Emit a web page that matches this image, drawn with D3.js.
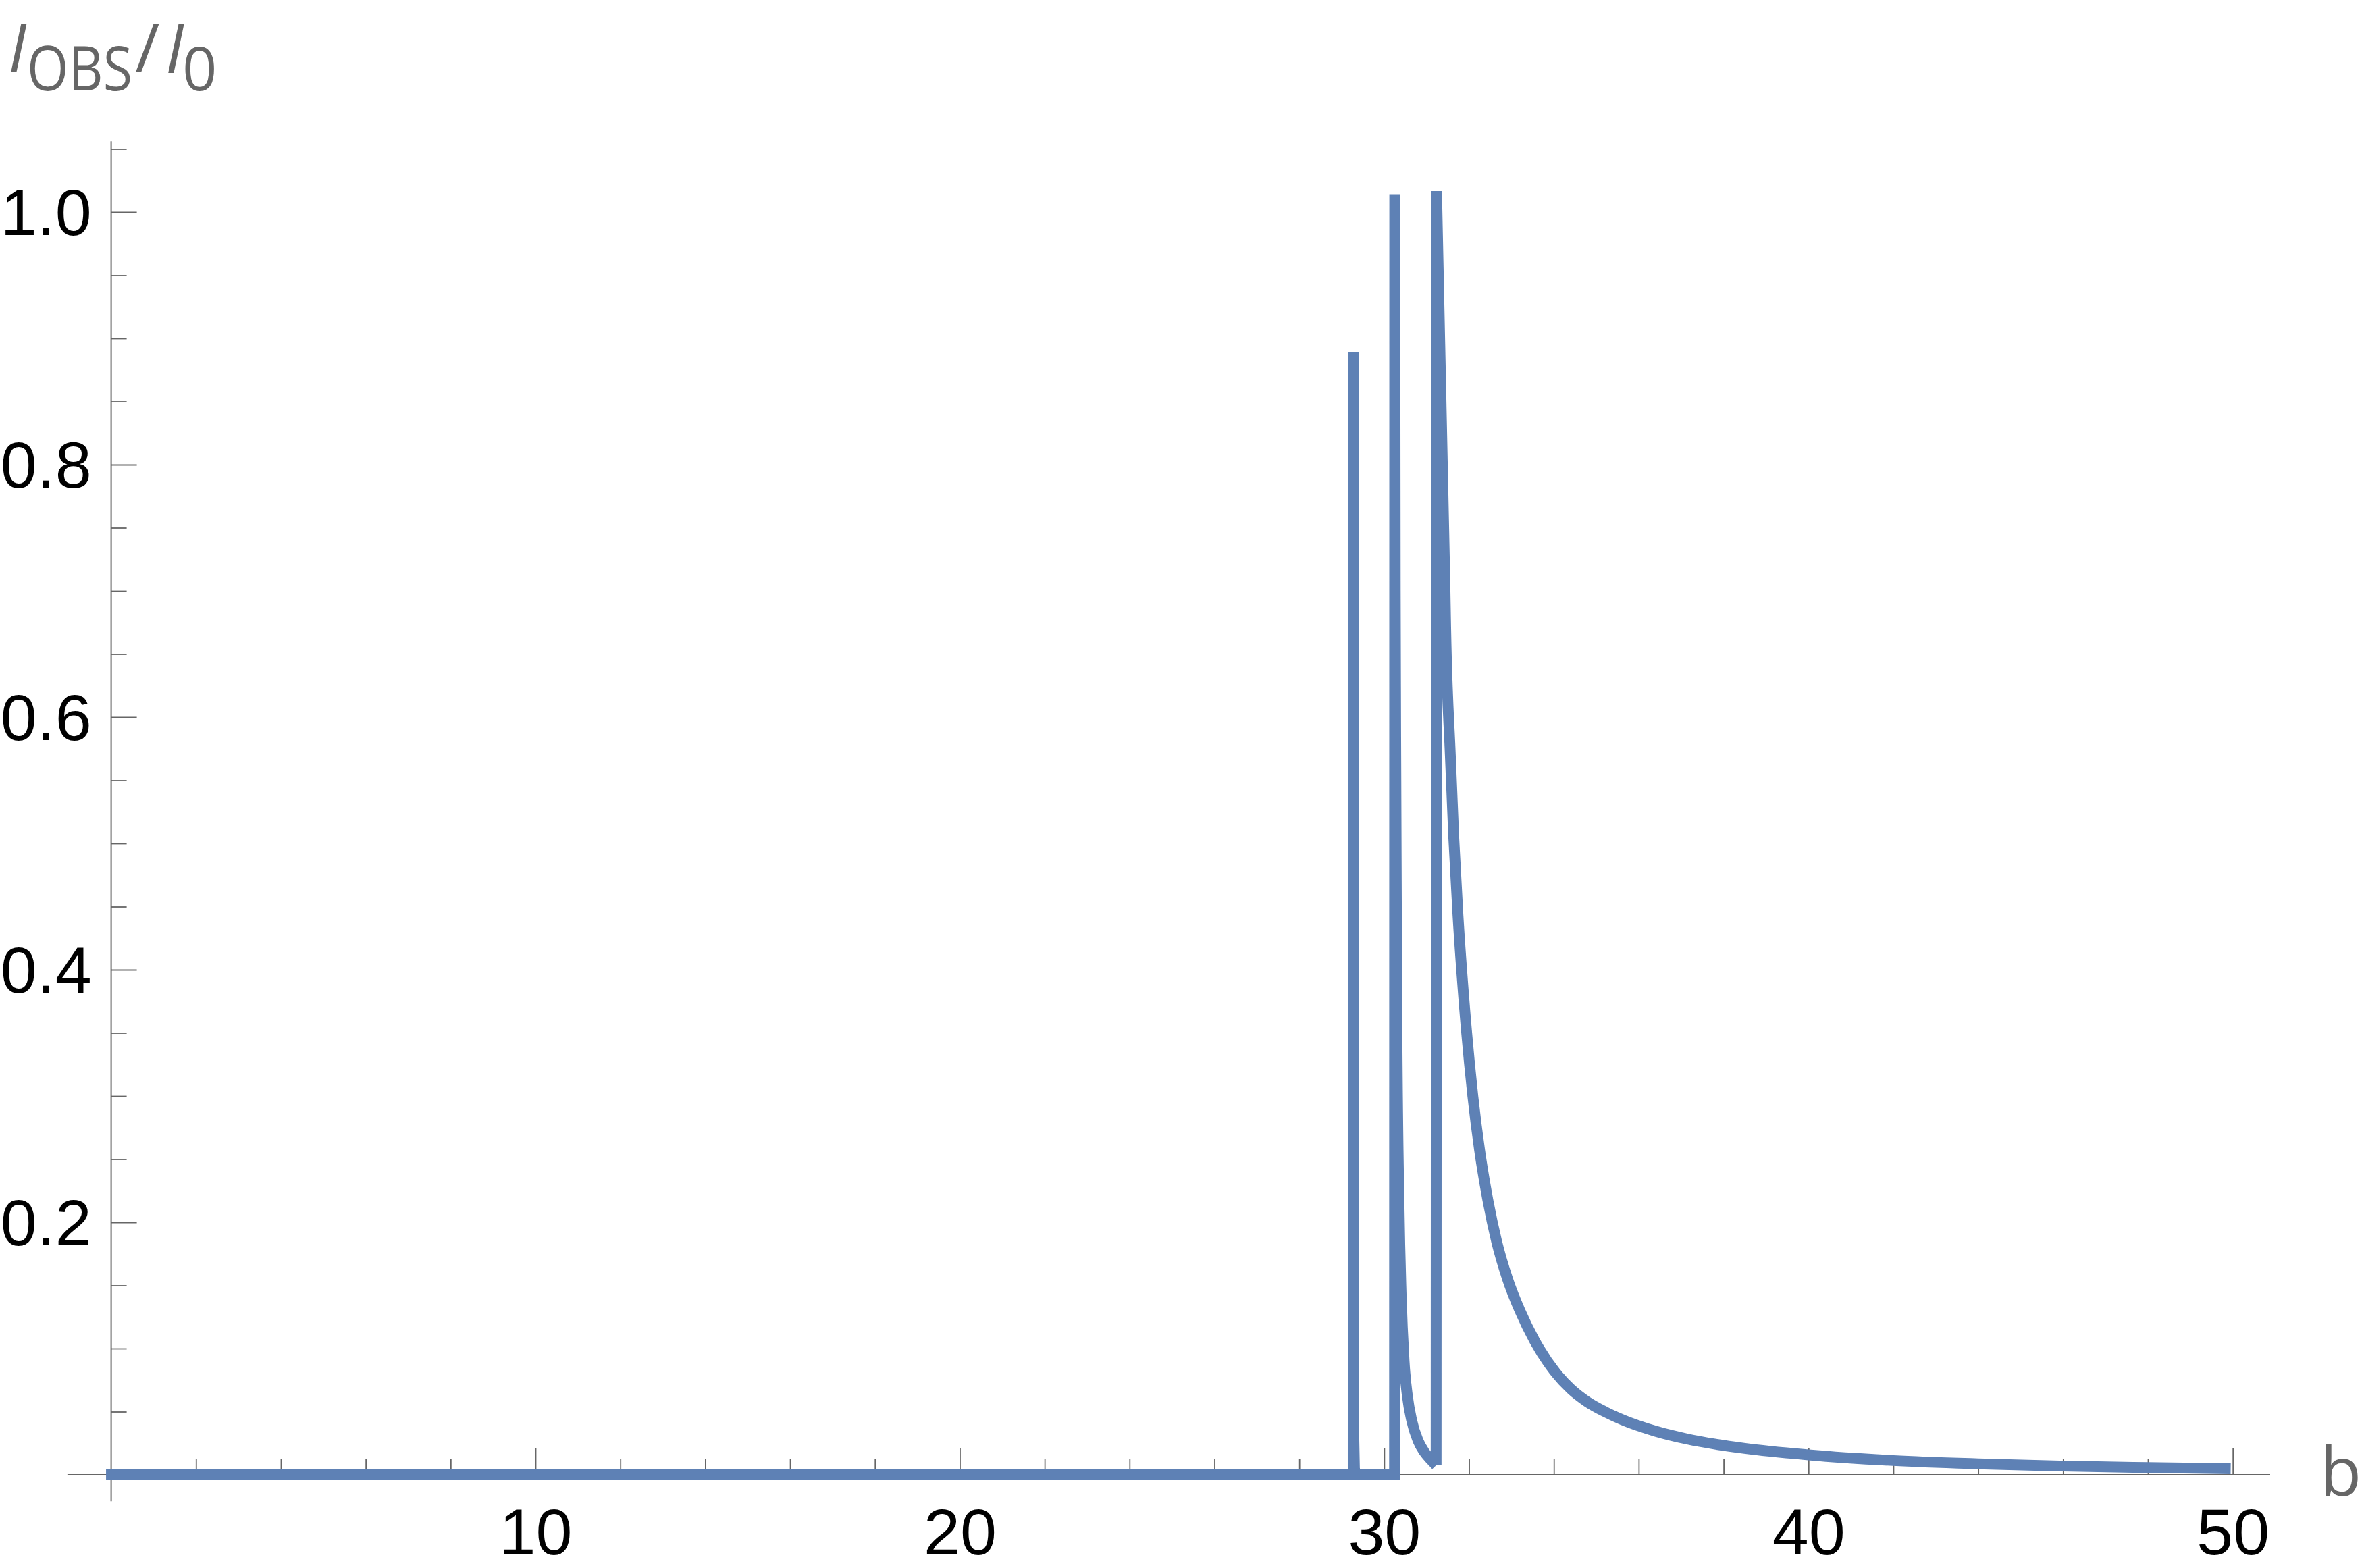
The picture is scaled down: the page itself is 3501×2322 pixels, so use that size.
<!DOCTYPE html>
<html>
<head>
<meta charset="utf-8">
<script src="https://cdn.jsdelivr.net/npm/d3@7"></script>
<style>
  html, body { margin: 0; padding: 0; background: #ffffff; }
  svg { display: block; }
</style>
</head>
<body>
<svg id="chart" width="3501" height="2322"></svg>
<script>
// ---------- data ----------
// baseline + first spike + rise of second spike (straight segments)
const riseB1 = [-0.12, 29.27, 29.275, 29.285, 29.30, 29.33, 30.245, 30.25];
const riseI1 = [0, 0, 0.889, 0.03, 0.005, 0, 0, 1.0136];
// decay after the second spike
const decayB2 = [30.25, 30.262, 30.277, 30.30, 30.35, 30.40, 30.47, 30.55, 30.65, 30.80, 30.95, 31.10, 31.225];
const decayI2 = [1.0136, 0.70, 0.549, 0.36, 0.215, 0.143, 0.09, 0.062, 0.043, 0.027, 0.018, 0.012, 0.0075];
// rise of the third spike
const riseB3 = [31.225, 31.235];
const riseI3 = [0.0075, 1.0166];
// decay after the third spike (long tail)
const decayB3 = [31.235, 31.43, 31.45, 31.56, 31.64, 31.74, 31.90, 32.09, 32.25, 32.42, 32.65, 32.91, 33.2, 33.55, 34.04, 34.4, 34.78, 35.2, 35.62, 36.4, 37.16, 38.5, 40, 42, 44, 46, 48, 49.95];
const decayI3 = [1.0166, 0.708, 0.671, 0.570, 0.505, 0.443, 0.368, 0.300, 0.257, 0.222, 0.185, 0.155, 0.130, 0.106, 0.081, 0.068, 0.058, 0.050, 0.0435, 0.0345, 0.0282, 0.0209, 0.0158, 0.0113, 0.0087, 0.0069, 0.0057, 0.0048];

// ticks
const xMajorTicks = [10, 20, 30, 40, 50];
const xTickLabels = ["10", "20", "30", "40", "50"];
const xMinorTicks = [2, 4, 6, 8, 12, 14, 16, 18, 22, 24, 26, 28, 32, 34, 36, 38, 42, 44, 46, 48];
const yMajorTicks = [0.2, 0.4, 0.6, 0.8, 1.0];
const yTickLabels = ["0.2", "0.4", "0.6", "0.8", "1.0"];
const yMinorTicks = [0.05, 0.1, 0.15, 0.25, 0.3, 0.35, 0.45, 0.5, 0.55, 0.65, 0.7, 0.75, 0.85, 0.9, 0.95, 1.05];
const xAxisExtent = [-1.03, 50.88];
const yAxisExtent = [-0.021, 1.056];

// ---------- drawing ----------
const svg = d3.select("#chart");
const x = d3.scaleLinear().domain([0, 50]).range([164.6, 3306.7]);
const y = d3.scaleLinear().domain([0, 1]).range([2184, 314]);

const axisColor = "#666666";
const tickFont = "'Liberation Sans', Arial, Helvetica, sans-serif";
const labelFont = "'Open Sans', 'Noto Sans', sans-serif";

// axis lines
svg.append("line")
  .attr("x1", x(xAxisExtent[0])).attr("x2", x(xAxisExtent[1]))
  .attr("y1", y(0)).attr("y2", y(0))
  .attr("stroke", axisColor).attr("stroke-width", 2);
svg.append("line")
  .attr("x1", x(0)).attr("x2", x(0))
  .attr("y1", y(yAxisExtent[0])).attr("y2", y(yAxisExtent[1]))
  .attr("stroke", axisColor).attr("stroke-width", 2);

function styleAxis(g) {
  g.select(".domain").remove();
  g.selectAll(".tick line").attr("stroke", axisColor).attr("stroke-width", 1.8);
  g.selectAll(".tick text")
    .attr("fill", "#000000")
    .style("font-family", tickFont)
    .style("font-size", "97px");
  g.attr("font-size", null).attr("font-family", null);
}

// x axis ticks
svg.append("g")
  .attr("transform", `translate(0,${y(0)})`)
  .call(d3.axisBottom(x).tickValues(xMinorTicks).tickSize(-23).tickFormat(""))
  .call(styleAxis);
svg.append("g")
  .attr("transform", `translate(0,${y(0)})`)
  .call(d3.axisBottom(x).tickValues(xMajorTicks).tickSize(-39).tickPadding(49)
        .tickFormat((d, i) => xTickLabels[i]))
  .call(styleAxis);

// y axis ticks
svg.append("g")
  .attr("transform", `translate(${x(0)},0)`)
  .call(d3.axisLeft(y).tickValues(yMinorTicks).tickSize(-23).tickFormat(""))
  .call(styleAxis);
const yMaj = svg.append("g")
  .attr("transform", `translate(${x(0)},0)`)
  .call(d3.axisLeft(y).tickValues(yMajorTicks).tickSize(-38).tickPadding(29)
        .tickFormat((d, i) => yTickLabels[i]))
  .call(styleAxis);
yMaj.selectAll(".tick text").attr("dy", "0.35em");

// curve
const lineLin = d3.line().x((d) => x(d[0])).y((d) => y(d[1])).curve(d3.curveLinear);
const lineMono = d3.line().x((d) => x(d[0])).y((d) => y(d[1])).curve(d3.curveMonotoneX);
const zip = (a, b) => a.map((v, i) => [v, b[i]]);

const dPath = [
  lineLin(zip(riseB1, riseI1)),
  lineMono(zip(decayB2, decayI2)),
  lineLin(zip(riseB3, riseI3)),
  lineMono(zip(decayB3, decayI3))
].join("");

svg.append("path")
  .attr("d", dPath)
  .attr("fill", "none")
  .attr("stroke", "#5E81B5")
  .attr("stroke-width", 16)
  .attr("stroke-linejoin", "miter")
  .attr("stroke-miterlimit", 4)
  .attr("stroke-linecap", "butt");

// axis labels
svg.append("text")
  .attr("x", 3436).attr("y", 2215)
  .attr("fill", axisColor)
  .style("font-family", labelFont)
  .style("font-size", "100px")
  .text("b");

const yl = svg.append("text")
  .attr("fill", axisColor)
  .style("font-family", labelFont);
yl.append("tspan").attr("x", 12).attr("y", 107).style("font-size", "100px").style("font-style", "italic").text("I");
yl.append("tspan").attr("x", 200).attr("y", 107).style("font-size", "100px").text("/");
yl.append("tspan").attr("x", 245).attr("y", 108).style("font-size", "100px").style("font-style", "italic").text("I");
yl.append("tspan").attr("x", 270).attr("y", 134).style("font-size", "90px").text("0");
svg.append("text")
  .attr("transform", "translate(40,134) scale(0.86,1)")
  .attr("fill", axisColor)
  .style("font-family", labelFont)
  .style("font-size", "92px")
  .text("OBS");
</script>
</body>
</html>
